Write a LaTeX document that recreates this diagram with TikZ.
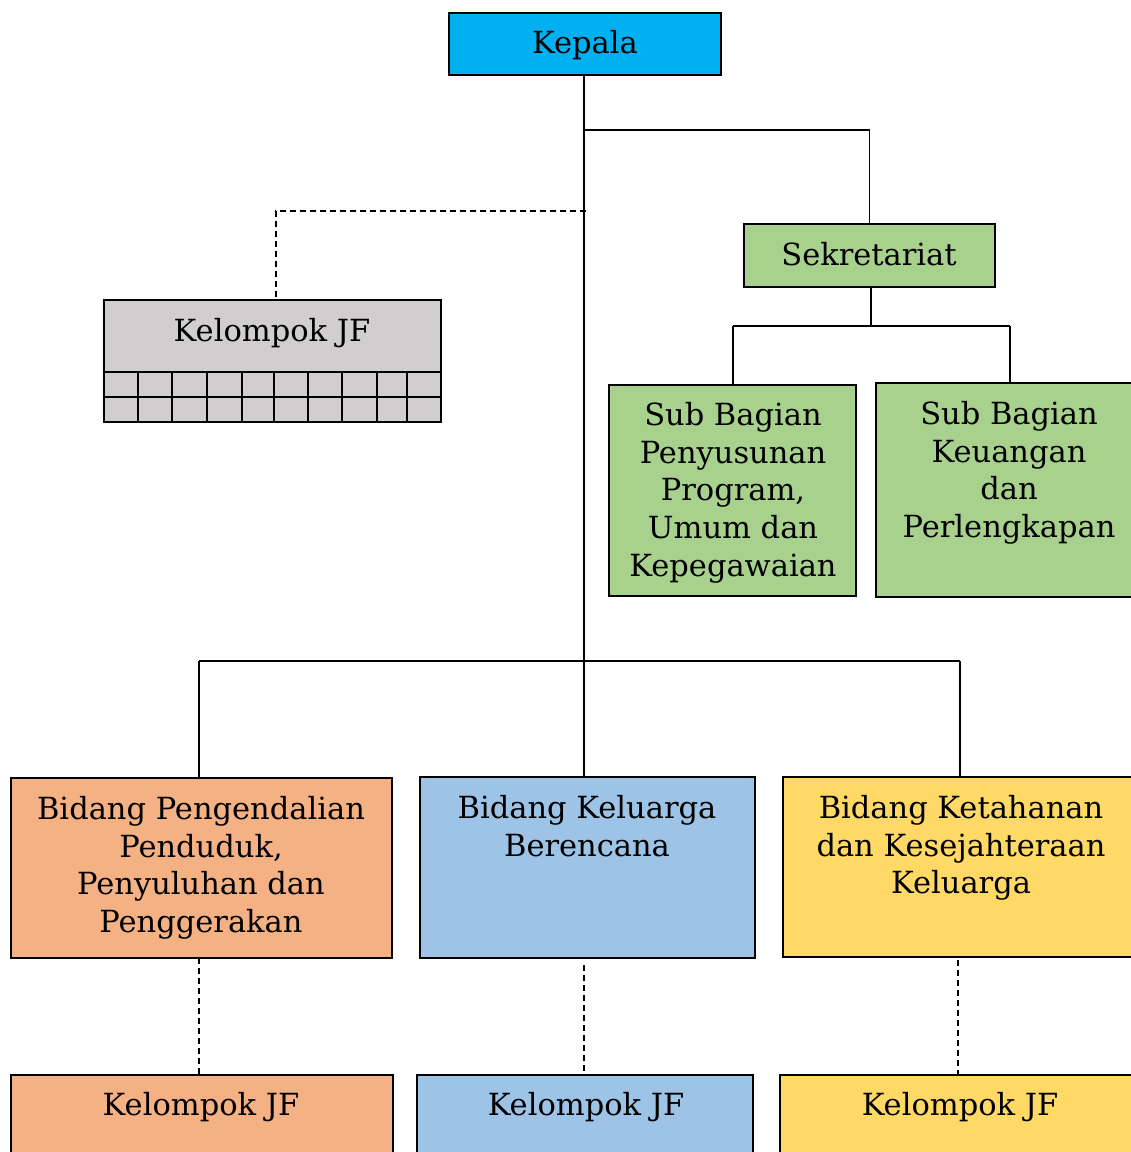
\documentclass[tikz,border=0pt]{standalone}
\usepackage{fontspec}
\setmainfont{DejaVu Serif}
\definecolor{cKepala}{HTML}{00B0F0}
\definecolor{cGray}{HTML}{D0CECE}
\definecolor{cGreen}{HTML}{A9D18E}
\definecolor{cOrange}{HTML}{F4B183}
\definecolor{cBlue}{HTML}{9DC3E6}
\definecolor{cYellow}{HTML}{FFD966}
\begin{document}
\begin{tikzpicture}[x=1pt,y=-1pt,
  box/.style={draw=black, line width=1.5pt, rectangle, inner sep=0pt, outer sep=0pt, anchor=north west},
  lbl/.style={align=center, inner sep=0pt, anchor=north, font=\fontsize{30.5}{37.8}\selectfont},
  conn/.style={line width=1.6pt},
  dconn/.style={line width=1.3pt, dash pattern=on 6pt off 4pt}]
\useasboundingbox (0,0) rectangle (1131,1152);
% boxes
\node[box, fill=cKepala, minimum width=272pt, minimum height=62pt] (kepala) at (449,13) {};
\node[box, fill=cGreen, minimum width=251pt, minimum height=63pt] (sek) at (744,224) {};
\node[box, fill=cGray, minimum width=337pt, minimum height=122pt] (jf) at (104,300) {};
\node[box, fill=cGreen, minimum width=247pt, minimum height=211pt] (sub1) at (609,385) {};
\node[box, fill=cGreen, minimum width=264pt, minimum height=214pt] (sub2) at (876,383) {};
\node[box, fill=cOrange, minimum width=381pt, minimum height=180pt] (bid1) at (11,778) {};
\node[box, fill=cBlue, minimum width=335pt, minimum height=181pt] (bid2) at (420,777) {};
\node[box, fill=cYellow, minimum width=357pt, minimum height=180pt] (bid3) at (783,777) {};
\node[box, fill=cOrange, minimum width=382pt, minimum height=90pt] (kj1) at (11,1075) {};
\node[box, fill=cBlue, minimum width=336pt, minimum height=90pt] (kj2) at (417,1075) {};
\node[box, fill=cYellow, minimum width=360pt, minimum height=90pt] (kj3) at (780,1075) {};
% grid in gray box
\draw[line width=1.5pt] (104,372) -- (441,372);
\draw[line width=1.5pt] (104,397) -- (441,397);
\foreach \gx in {138,172,207,242,274,308,342,377,407}
  \draw[line width=1.5pt] (\gx,372) -- (\gx,422);
% labels
\node[lbl] (tKepala) at (585,30) {Kepala};
\node[lbl] (tSek) at (869,242) {Sekretariat};
\node[lbl] (tJf) at (272,318) {Kelompok JF};
\node[lbl] (tSub1) at (733,402) {Sub Bagian\\Penyusunan\\Program,\\Umum dan\\Kepegawaian};
\node[lbl] (tSub2) at (1009,401) {Sub Bagian\\Keuangan\\dan\\Perlengkapan};
\node[lbl] (tBid1) at (201,796) {Bidang Pengendalian\\Penduduk,\\Penyuluhan dan\\Penggerakan};
\node[lbl] (tBid2) at (587,795) {Bidang Keluarga\\Berencana};
\node[lbl] (tBid3) at (961,795) {Bidang Ketahanan\\dan Kesejahteraan\\Keluarga};
\node[lbl] (tKj1) at (201,1092) {Kelompok JF};
\node[lbl] (tKj2) at (586,1092) {Kelompok JF};
\node[lbl] (tKj3) at (960,1092) {Kelompok JF};
% junction coordinates
\coordinate (jTop) at (584,130);
\coordinate (jDash) at (586,211);
\coordinate (jMain) at (584,661);
\coordinate (jSek) at (871,326);
% connectors
\draw[conn] (kepala.south -| jMain) -- (jMain);
\draw[conn] (jTop) -| (sek.north);
\draw[dconn] (jDash) -| (276,300);
\draw[conn] (sek.south -| jSek) -- (jSek);
\draw[conn] (733,326) -- (1010,326);
\draw[conn] (733,326) -- (sub1.north -| 733,0);
\draw[conn] (1010,326) -- (sub2.north -| 1010,0);
\draw[conn] (199,661) -- (960,661);
\draw[conn] (199,661) -- (bid1.north -| 199,0);
\draw[conn] (jMain) -- (bid2.north -| 584,0);
\draw[conn] (960,661) -- (bid3.north -| 960,0);
\draw[dconn] (bid1.south -| 199,0) -- (kj1.north -| 199,0);
\draw[dconn] (584,965) -- (kj2.north -| 584,0);
\draw[dconn] (958,960) -- (kj3.north -| 958,0);
\end{tikzpicture}
\end{document}
